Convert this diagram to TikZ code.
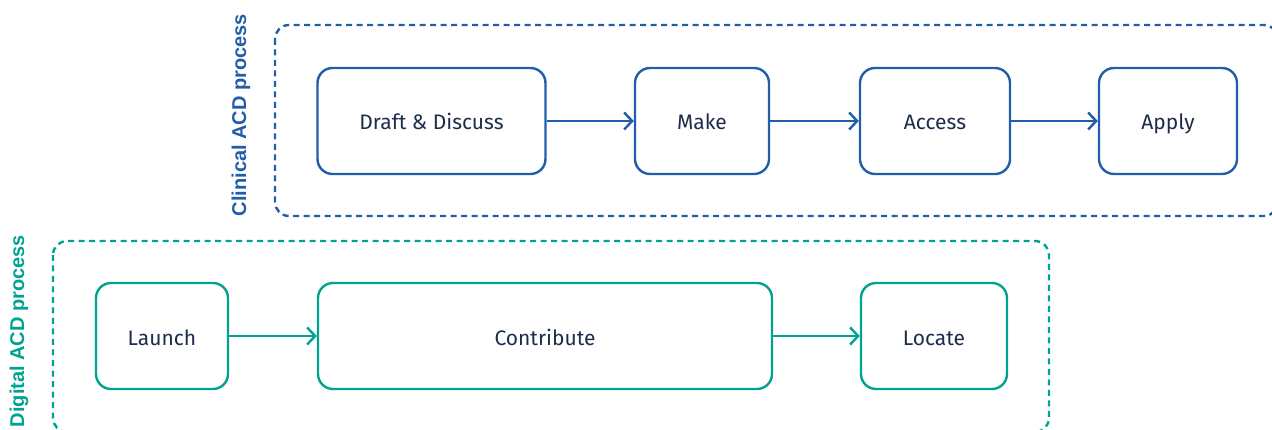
\documentclass[tikz,border=0pt]{standalone}
\usepackage{fontspec}
\setmainfont{Fira Sans}
\newfontfamily\sidefont{Liberation Sans}
\usetikzlibrary{arrows.meta}

\definecolor{clinblue}{RGB}{33,94,170}
\definecolor{digiteal}{RGB}{0,163,146}
\definecolor{inktext}{RGB}{30,44,76}

\tikzset{
  stepbox/.style={draw=#1, line width=2.4pt, rounded corners=15pt, minimum height=106pt,
    inner sep=0pt, text=inktext, text height=18pt, text depth=0pt,
    font=\fontsize{21}{24}\selectfont},
  flow/.style={line width=2.4pt, -{Straight Barb[length=8pt,width=17pt,line width=2.4pt]}},
  group/.style={line width=2.4pt, dash pattern=on 6pt off 4.5pt, rounded corners=14pt},
  sidelabel/.style={rotate=90, font=\sidefont\bfseries\fontsize{20}{22}\selectfont}
}

\begin{document}
\begin{tikzpicture}[x=1pt,y=-1pt]
\useasboundingbox (0,0) rectangle (1272,430);

%Clinical row
\draw[group, clinblue] (275,25) rectangle (1278,216);
\node[sidelabel, clinblue] (clinlabel) at (241,115) {Clinical ACD process};

\node[stepbox=clinblue, minimum width=228pt] (draft) at (431.5,121) {Draft \& Discuss};
\node[stepbox=clinblue, minimum width=134pt] (make) at (702,121) {Make};
\node[stepbox=clinblue, minimum width=150pt] (access) at (935,121) {Access};
\node[stepbox=clinblue, minimum width=138pt] (apply) at (1168,121) {Apply};

\draw[flow, clinblue] (draft) -- (make);
\draw[flow, clinblue] (make) -- (access);
\draw[flow, clinblue] (access) -- (apply);

%Digital row
\draw[group, digiteal] (53,241) rectangle (1049,432);
\node[sidelabel, digiteal] (digilabel) at (19,331) {Digital ACD process};

\node[stepbox=digiteal, minimum width=132pt] (launch) at (162,336) {Launch};
\node[stepbox=digiteal, minimum width=454pt] (contribute) at (545,336) {Contribute};
\node[stepbox=digiteal, minimum width=146pt] (locate) at (934,336) {Locate};

\draw[flow, digiteal] (launch) -- (contribute);
\draw[flow, digiteal] (contribute) -- (locate);
\end{tikzpicture}
\end{document}
